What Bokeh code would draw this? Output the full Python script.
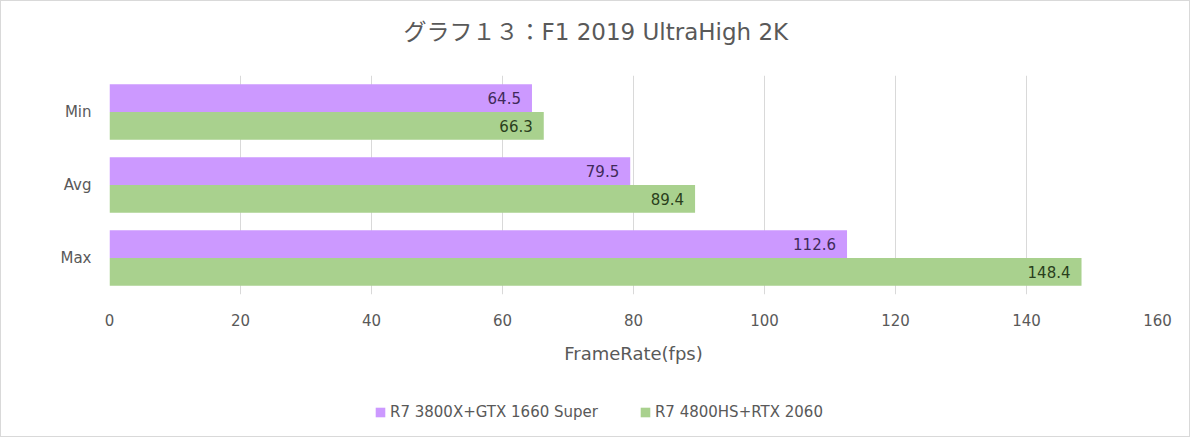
from bokeh.plotting import figure
from bokeh.layouts import column
from bokeh.models import ColumnDataSource, FactorRange, FixedTicker, LabelSet, Legend, LegendItem, Range1d
from bokeh.transform import dodge
from bokeh.core.properties import value
from bokeh.embed import file_html
from bokeh.resources import INLINE

title_text = "グラフ１３：F1 2019 UltraHigh 2K"
categories = ["Min", "Avg", "Max"]
series_names = ["R7 3800X+GTX 1660 Super", "R7 4800HS+RTX 2060"]
r7_3800x = [64.5, 79.5, 112.6]
r7_4800hs = [66.3, 89.4, 148.4]
x_ticks = [0, 20, 40, 60, 80, 100, 120, 140, 160]
x_label = "FrameRate(fps)"

FONT = "DejaVu Sans, Noto Sans CJK JP"
GRAY = "#595959"
PURPLE = "#CC99FF"
GREEN = "#A9D18E"
BORDER = "1px solid #D9D9D9"

src = ColumnDataSource(dict(
    cat=categories,
    a=r7_3800x,
    b=r7_4800hs,
    a_txt=[f"{v:.1f}" for v in r7_3800x],
    b_txt=[f"{v:.1f}" for v in r7_4800hs],
))

W = 1190
HT = 74
H1 = 306
H2 = 57

y_rng = FactorRange(factors=categories[::-1], range_padding=0)
x_rng = Range1d(0, 160)


def strip(height, styles):
    f = figure(width=W, height=height, output_backend="svg", toolbar_location=None,
               x_range=x_rng, y_range=y_rng)
    f.styles = styles
    f.min_border = 0
    f.min_border_left = 108
    f.min_border_right = W - 108 - 1048
    f.axis.visible = False
    f.grid.visible = False
    f.outline_line_color = None
    f.background_fill_color = "white"
    f.border_fill_color = "white"
    return f


bw = 0.38

# title strip
top = strip(HT, {"border-top": BORDER, "border-left": BORDER, "border-right": BORDER})
top.title.text = title_text
top.title.align = "left"
top.title.text_font = FONT
top.title.text_font_size = "23px"
top.title.text_font_style = "normal"
top.title.text_color = GRAY
top.title.standoff = 30
top.title.offset = 294
ta = top.hbar(y="cat", right="a", left=0, height=bw, source=src, fill_color=PURPLE, line_color=None)
ta.visible = False

# main chart
p = figure(width=W, height=H1, output_backend="svg", toolbar_location=None,
           y_range=y_rng, x_range=x_rng)
p.styles = {"border-left": BORDER, "border-right": BORDER}
p.min_border_left = 108
p.min_border_right = W - 108 - 1048
p.min_border_top = 1
p.min_border_bottom = H1 - 1 - 219
p.outline_line_color = None
p.background_fill_color = "white"
p.border_fill_color = "white"

ra = p.hbar(y=dodge("cat", bw / 2, range=p.y_range), right="a", left=0, height=bw,
            source=src, fill_color=PURPLE, line_color=None)
rb = p.hbar(y=dodge("cat", -bw / 2, range=p.y_range), right="b", left=0, height=bw,
            source=src, fill_color=GREEN, line_color=None)

la = LabelSet(x="a", y=dodge("cat", bw / 2, range=p.y_range), text="a_txt", source=src,
              x_offset=-11, text_align="right", text_baseline="middle",
              text_font=value(FONT), text_font_size="15px", text_color="#3F2A5A")
lb = LabelSet(x="b", y=dodge("cat", -bw / 2, range=p.y_range), text="b_txt", source=src,
              x_offset=-11, text_align="right", text_baseline="middle",
              text_font=value(FONT), text_font_size="15px", text_color="#2A3F1C")
p.add_layout(la)
p.add_layout(lb)

xa = p.xaxis[0]
xa.ticker = FixedTicker(ticks=x_ticks)
xa.axis_line_color = None
xa.major_tick_line_color = None
xa.minor_tick_line_color = None
xa.major_label_text_font = FONT
xa.major_label_text_font_size = "15px"
xa.major_label_text_color = GRAY
xa.major_label_standoff = 13
xa.axis_label = x_label
xa.axis_label_text_font = FONT
xa.axis_label_text_font_size = "18px"
xa.axis_label_text_font_style = "normal"
xa.axis_label_text_color = GRAY
xa.axis_label_standoff = 14

ya = p.yaxis[0]
ya.axis_line_color = None
ya.major_tick_line_color = None
ya.minor_tick_line_color = None
ya.major_label_text_font = FONT
ya.major_label_text_font_size = "15px"
ya.major_label_text_color = GRAY
ya.major_label_standoff = 12

p.xgrid.grid_line_color = "#D9D9D9"
p.xgrid.ticker = FixedTicker(ticks=x_ticks)
p.ygrid.grid_line_color = None

# legend strip: same data, renderers hidden so only the legend entries show
lg = strip(H2, {"border-bottom": BORDER, "border-left": BORDER, "border-right": BORDER})
ga = lg.hbar(y="cat", right="a", left=0, height=bw, source=src, fill_color=PURPLE, line_color=None)
gb = lg.hbar(y="cat", right="b", left=0, height=bw, source=src, fill_color=GREEN, line_color=None)
ga.visible = False
gb.visible = False

legend = Legend(items=[LegendItem(label=series_names[0], renderers=[ga]),
                       LegendItem(label=series_names[1], renderers=[gb])],
                orientation="horizontal", location=(265, 16),
                border_line_color=None, background_fill_alpha=0,
                padding=0, margin=0, spacing=41, label_standoff=4,
                glyph_width=12, glyph_height=12,
                label_text_font=FONT, label_text_font_size="15px", label_text_color=GRAY)
lg.add_layout(legend)

layout = column(top, p, lg, spacing=0)
open("out.html", "w").write(file_html(layout, INLINE))
